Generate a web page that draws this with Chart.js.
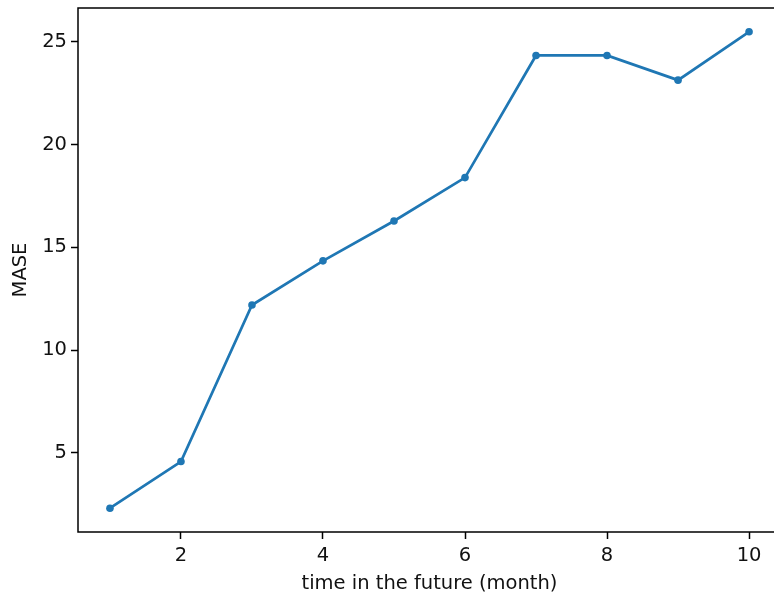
<!DOCTYPE html>
<html>
<head>
<meta charset="utf-8">
<script src="https://cdn.jsdelivr.net/npm/chart.js@4/dist/chart.umd.min.js"></script>
<style>
  html, body { margin: 0; padding: 0; background: #fff; overflow: hidden; }
  #wrap { width: 800px; height: 599px; }
</style>
</head>
<body>
<div id="wrap"><canvas id="c" width="800" height="599"></canvas></div>
<script>
// Forecast horizon in months and the error measured at each horizon
const months = [1, 2, 3, 4, 5, 6, 7, 8, 9, 10];
const mase = [2.31, 4.58, 12.19, 14.34, 16.28, 18.39, 24.33, 24.33, 23.13, 25.48];

// Tick values shown on each axis
const xTicks = [2, 4, 6, 8, 10];
const yTicks = [5, 10, 15, 20, 25];

// Axis ranges padded by 5% of the data span on each side
const xPad = (Math.max(...months) - Math.min(...months)) * 0.05;
const yPad = (Math.max(...mase) - Math.min(...mase)) * 0.05;

const LINE_BLUE = '#1f77b4';
const INK = '#111111';
const FONT = { family: 'DejaVu Sans', size: 19.5 };

// Left, top and bottom edges of the plotting box
const frame = {
  id: 'frame',
  afterDraw(chart) {
    const { ctx, chartArea: a } = chart;
    ctx.save();
    ctx.strokeStyle = '#000';
    ctx.lineWidth = 1.5;
    ctx.beginPath();
    ctx.moveTo(a.right + 2, a.top);
    ctx.lineTo(a.left, a.top);
    ctx.lineTo(a.left, a.bottom);
    ctx.lineTo(a.right + 2, a.bottom);
    ctx.stroke();
    ctx.restore();
  }
};

const axisGrid = {
  display: true,
  drawOnChartArea: false,
  drawTicks: true,
  tickLength: 7,
  tickColor: '#000',
  tickWidth: 1.5
};

new Chart(document.getElementById('c'), {
  type: 'line',
  data: {
    datasets: [{
      data: months.map((m, i) => ({ x: m, y: mase[i] })),
      borderColor: LINE_BLUE,
      backgroundColor: LINE_BLUE,
      borderWidth: 2.7,
      pointRadius: 3.8,
      pointBorderWidth: 0,
      pointBackgroundColor: LINE_BLUE,
      tension: 0,
      fill: false
    }]
  },
  options: {
    responsive: false,
    animation: false,
    devicePixelRatio: 1,
    layout: { padding: { left: 0, top: 8, right: 19, bottom: 0 } },
    plugins: {
      legend: { display: false },
      tooltip: { enabled: false }
    },
    scales: {
      x: {
        type: 'linear',
        min: Math.min(...months) - xPad,
        max: Math.max(...months) + xPad,
        afterBuildTicks: s => { s.ticks = xTicks.map(v => ({ value: v })); },
        afterFit: s => { s.height = 67; s.paddingLeft = 0; s.paddingRight = 0; },
        grid: axisGrid,
        border: { display: false },
        ticks: { font: FONT, color: INK, padding: 5, maxRotation: 0, autoSkip: false },
        title: {
          display: true,
          text: 'time in the future (month)',
          font: FONT,
          color: INK,
          padding: { top: 0, bottom: 3 }
        }
      },
      y: {
        type: 'linear',
        min: Math.min(...mase) - yPad,
        max: Math.max(...mase) + yPad,
        afterBuildTicks: s => { s.ticks = yTicks.map(v => ({ value: v })); },
        afterFit: s => { s.width = 78; s.paddingTop = 0; s.paddingBottom = 0; },
        grid: axisGrid,
        border: { display: false },
        ticks: { font: FONT, color: INK, padding: 4, autoSkip: false },
        title: {
          display: true,
          text: 'MASE',
          font: FONT,
          color: INK,
          padding: { top: 9, bottom: 0 }
        }
      }
    }
  },
  plugins: [frame]
});
</script>
</body>
</html>
